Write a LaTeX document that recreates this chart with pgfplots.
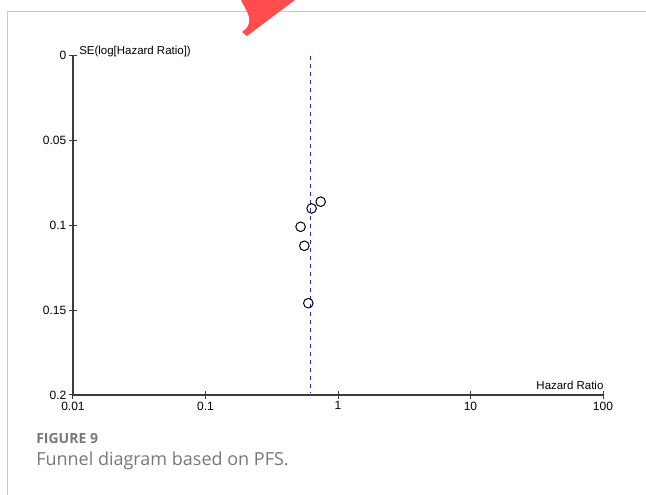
\documentclass[border=0pt]{standalone}
\usepackage{fontspec}
\setmainfont{Liberation Sans}
\newfontfamily\capfont{Open Sans}
\usepackage{pgfplots}
\pgfplotsset{compat=1.18}
\definecolor{framegrey}{RGB}{200,200,200}
\definecolor{logored}{RGB}{255,76,76}
\definecolor{capgrey}{RGB}{120,120,120}
\definecolor{axisgrey}{RGB}{60,60,60}
\definecolor{refblue}{RGB}{35,35,235}
\begin{document}
\begin{tikzpicture}[x=0.75pt,y=0.75pt]
\useasboundingbox (0,0) rectangle (646,495);
% frame
\draw[framegrey, line width=0.75pt] (7.3,0) -- (7.3,483) -- (646,483);
% red logo fragment
\fill[logored] (241,495) .. controls (246,485) and (251,478) .. (249,472)
   .. controls (248,467) and (245,465) .. (242,463) -- (247,459) -- (295,495) -- cycle;
\begin{axis}[
  at={(54.75pt,75pt)}, anchor=south west,
  scale only axis, width=397.5pt, height=254.6pt,
  xmode=log, xmin=0.01, xmax=100,
  ymin=0, ymax=0.2, y dir=reverse,
  axis x line=bottom, axis y line=left,
  axis line style={-, axisgrey, line width=0.9pt},
  xtick={0.01,0.1,1,10,100},
  xticklabels={0.01,0.1,1,10,100},
  ytick={0,0.05,0.1,0.15,0.2},
  yticklabels={0,0.05,0.1,0.15,0.2},
  xminorticks=false, yminorticks=false,
  tick align=center, major tick length=6pt,
  tick style={axisgrey, line width=0.75pt},
  tick label style={font=\fontsize{9}{10}\selectfont},
  yticklabel style={xshift=1.5pt},
  xticklabel style={yshift=1.5pt},
  /pgf/number format/assume math mode=true,
  xlabel={Hazard Ratio},
  xlabel style={at={(axis description cs:1,0)}, anchor=base east, yshift=4pt, xshift=0.5pt, inner sep=0pt, font=\fontsize{8.6}{10}\selectfont},
  ylabel={SE(log[Hazard Ratio])},
  ylabel style={at={(axis description cs:0,1)}, anchor=base west, rotate=-90, xshift=4.5pt, yshift=1pt, inner sep=0pt, font=\fontsize{8.6}{10}\selectfont},
  clip=false,
]
\addplot[refblue, line width=0.8pt, dash pattern=on 3.5pt off 2.5pt] coordinates {(0.625,0) (0.625,0.198)};
\addplot[only marks, mark=o, mark size=3.6pt, mark options={black, line width=0.75pt}] coordinates {
  (0.74,0.0861)
  (0.632,0.0901)
  (0.522,0.1009)
  (0.557,0.1121)
  (0.597,0.1459)
};
\end{axis}
\node[anchor=base west, inner sep=0pt, text=capgrey, font=\capfont\bfseries\fontsize{10.5}{12}\selectfont] at (36,51) {FIGURE 9};
\node[anchor=base west, inner sep=0pt, text=capgrey, font=\capfont\fontsize{13.5}{15}\selectfont] at (36,29) {Funnel diagram based on PFS.};
\end{tikzpicture}
\end{document}
